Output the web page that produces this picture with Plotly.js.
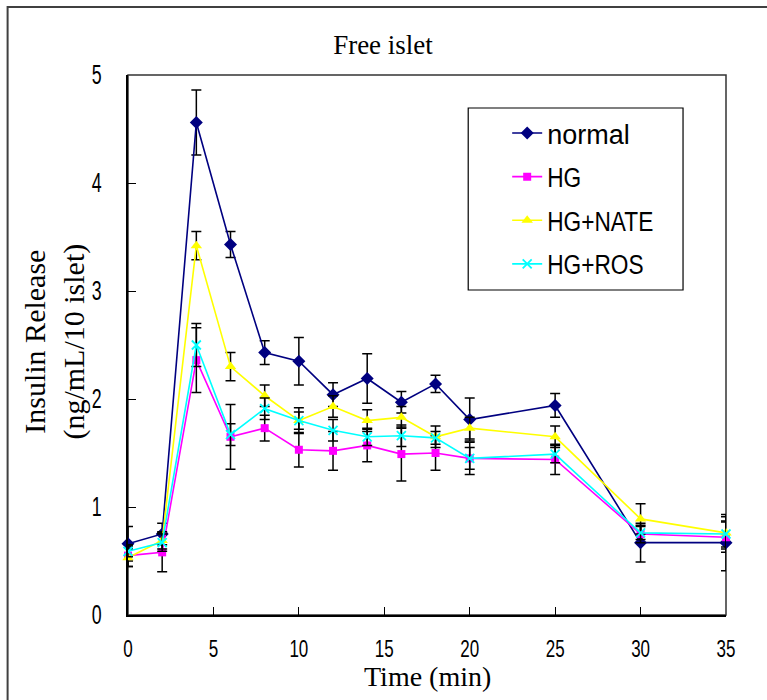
<!DOCTYPE html>
<html>
<head>
<meta charset="utf-8">
<script src="https://cdn.plot.ly/plotly-3.0.1.min.js"></script>
<style>html,body{margin:0;padding:0;background:#fff;}#chart{width:767px;height:700px;}</style>
</head>
<body>
<div id="chart"></div>
<script>
var timeMin = [0, 2, 4, 6, 8, 10, 12, 14, 16, 18, 20, 25, 30, 35];
var seriesNames = ["normal", "HG", "HG+NATE", "HG+ROS"];
var normalVals = [0.66, 0.75, 4.56, 3.43, 2.43, 2.35, 2.04, 2.19, 1.97, 2.14, 1.81, 1.94, 0.67, 0.67];
var normalErr  = [0.16, 0.10, 0.30, 0.12, 0.11, 0.22, 0.11, 0.23, 0.10, 0.08, 0.20, 0.11, 0.18, 0.26];
var hgVals     = [0.55, 0.58, 2.36, 1.65, 1.73, 1.53, 1.52, 1.57, 1.49, 1.50, 1.45, 1.44, 0.75, 0.72];
var hgErr      = [0.10, 0.18, 0.30, 0.30, 0.12, 0.16, 0.18, 0.15, 0.25, 0.16, 0.15, 0.14, 0.08, 0.14];
var nateVals   = [0.53, 0.69, 3.42, 2.30, 2.03, 1.80, 1.93, 1.80, 1.83, 1.65, 1.73, 1.65, 0.89, 0.76];
var nateErr    = [0.08, 0.08, 0.13, 0.13, 0.10, 0.12, 0.10, 0.10, 0.10, 0.10, 0.10, 0.10, 0.14, 0.15];
var rosVals    = [0.59, 0.67, 2.50, 1.67, 1.91, 1.80, 1.71, 1.65, 1.66, 1.64, 1.45, 1.49, 0.76, 0.75];
var rosErr     = [0.05, 0.08, 0.20, 0.10, 0.10, 0.08, 0.10, 0.08, 0.10, 0.06, 0.10, 0.08, 0.06, 0.12];
var xTicks = [0, 5, 10, 15, 20, 25, 30, 35];
var yTicks = [0, 1, 2, 3, 4, 5];
var titleText = "Free islet";
var xTitleText = "Time (min)";
var yTitleText = "Insulin Release<br>(ng/mL/10 islet)";

var W = 767, H = 700;
var mL = 127.5, mR = 41, mT = 75, mB = 85;
var pw = W - mL - mR, ph = H - mT - mB;
function px2x(p){ return (p - mL) / pw; }
function px2y(p){ return (H - mB - p) / ph; }

var sans = "Liberation Sans, Arial, sans-serif";
var serif = "Liberation Serif, Times New Roman, serif";

function mk(name, y, err, color, symbol, size, group){
  return {
    x: timeMin, y: y, name: name, type: "scatter", mode: "lines+markers",
    legendgroup: group,
    line: {color: color, width: 1.6},
    marker: {color: color, symbol: symbol, size: size, line: {color: color, width: symbol === "x-thin" ? 1.8 : 0}},
    error_y: {type: "data", array: err, visible: true, color: "#000", thickness: 1.5, width: 5},
    cliponaxis: false
  };
}
var data = [
  mk(seriesNames[0], normalVals, normalErr, "#000080", "diamond", 10, "a"),
  mk(seriesNames[1], hgVals, hgErr, "#FF00FF", "square", 8, "b"),
  mk(seriesNames[2], nateVals, nateErr, "#FFFF00", "triangle-up", 10, "c"),
  mk(seriesNames[3], rosVals, rosErr, "#00FFFF", "x-thin", 9, "d")
];

var layout = {
  width: W, height: H,
  margin: {l: mL, r: mR, t: mT, b: mB, pad: 0},
  paper_bgcolor: "#fff", plot_bgcolor: "#fff",
  showlegend: true,
  title: {text: titleText, font: {family: serif, size: 27, color: "#000"}, x: 383 / W, xanchor: "center", xref: "container", y: 1 - 45 / H, yanchor: "middle", yref: "container"},
  xaxis: {
    range: [0, 35], tickvals: xTicks, ticktext: xTicks.map(String),
    ticks: "inside", ticklen: 8, tickwidth: 1, tickcolor: "#000",
    showline: true, linecolor: "#000", linewidth: 2, mirror: false,
    showgrid: false, zeroline: false, automargin: false,
    tickfont: {family: sans, size: 23, color: "#000"},
    ticklabelstandoff: 12
  },
  yaxis: {
    range: [0, 5], tickvals: yTicks, ticktext: yTicks.map(String),
    ticks: "inside", ticklen: 8, tickwidth: 1, tickcolor: "#000",
    showline: true, linecolor: "#000", linewidth: 2, mirror: false,
    showgrid: false, zeroline: false, automargin: false,
    tickfont: {family: sans, size: 27, color: "#000"},
    ticklabelstandoff: 19
  },
  annotations: [
    {text: xTitleText, xref: "paper", yref: "paper", x: 0.5, y: px2y(676), xanchor: "center", yanchor: "middle", showarrow: false, font: {family: serif, size: 28, color: "#000"}},
    {text: yTitleText, xref: "paper", yref: "paper", x: px2x(53), y: px2y(342), xanchor: "center", yanchor: "middle", textangle: -90, showarrow: false, font: {family: serif, size: 30, color: "#000"}}
  ],
  legend: {
    x: px2x(507), y: px2y(109), xanchor: "left", yanchor: "top",
    bgcolor: "rgba(0,0,0,0)", borderwidth: 0,
    font: {family: sans, size: 27, color: "#000"},
    traceorder: "grouped", tracegroupgap: 5.5, itemwidth: 30
  },
  shapes: [
    {type: "rect", xref: "paper", yref: "paper", x0: 0, x1: 1, y0: 0, y1: 1, line: {color: "#333", width: 1.5}, layer: "below"},
    {type: "rect", xref: "paper", yref: "paper", x0: px2x(468), x1: px2x(683), y0: px2y(108), y1: px2y(290), line: {color: "#000", width: 1.2}},
    {type: "rect", xref: "paper", yref: "paper", x0: px2x(7), x1: px2x(900), y0: px2y(7), y1: px2y(900), line: {color: "#404040", width: 2}}
  ]
};
Plotly.newPlot("chart", data, layout, {displayModeBar: false, staticPlot: true}).then(function(gd){
  // emulate the narrow gothic face of the original by condensing glyphs horizontally
  function squeeze(sel, f){
    gd.querySelectorAll(sel).forEach(function(t){
      var L = t.getComputedTextLength();
      var k = (typeof f === "function") ? f(t.textContent) : f;
      if (L > 0 && k < 1) { t.setAttribute("textLength", (L * k).toFixed(1)); t.setAttribute("lengthAdjust", "spacingAndGlyphs"); }
    });
  }
  squeeze(".xtick text", 0.74);
  squeeze(".ytick text", 0.66);
  squeeze(".legendtext", function(s){ return /[a-z]/.test(s) ? 1 : 0.84; });
});
</script>
</body>
</html>
